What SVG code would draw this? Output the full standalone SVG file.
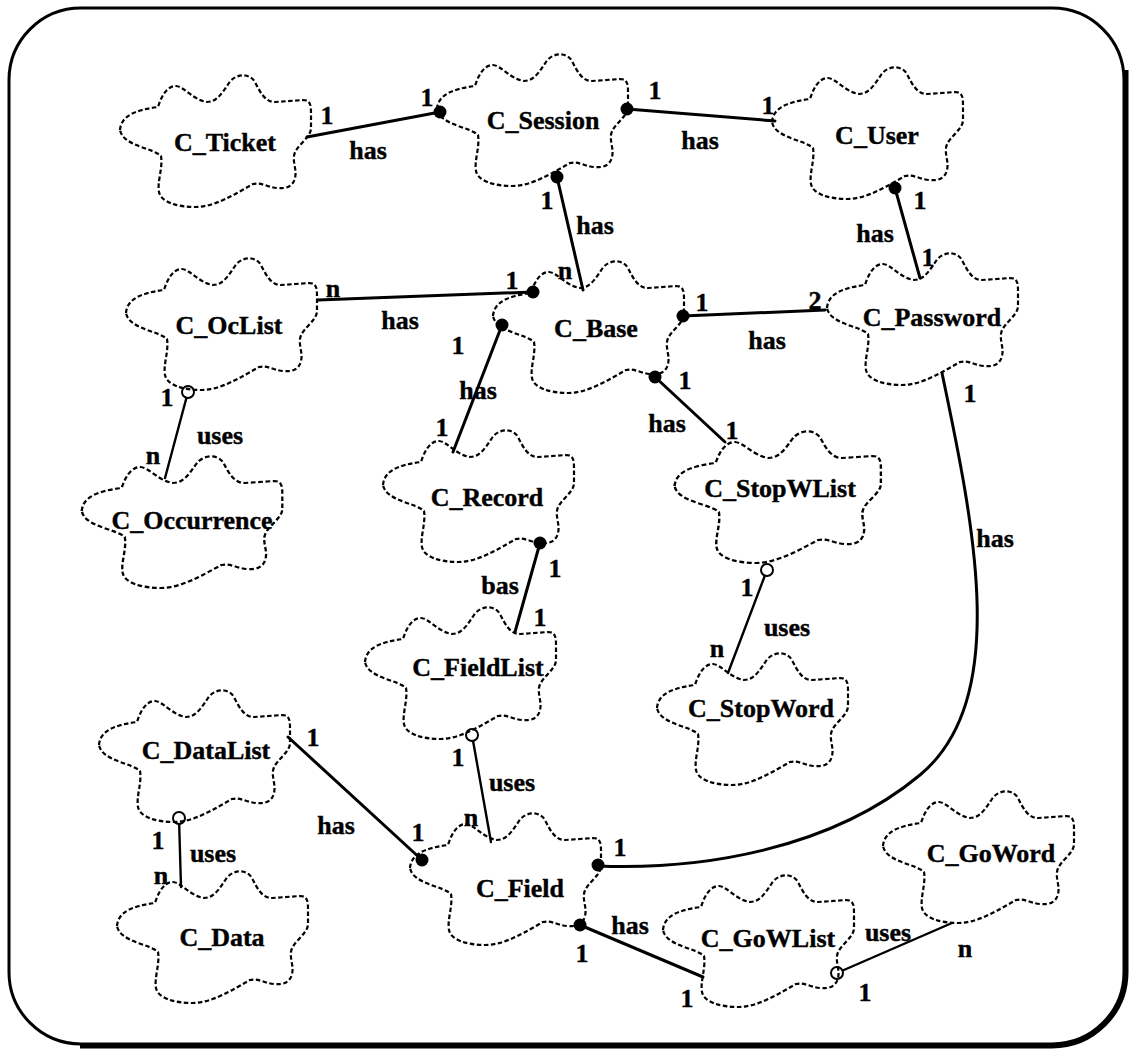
<svg xmlns="http://www.w3.org/2000/svg" xmlns:xlink="http://www.w3.org/1999/xlink" width="1131" height="1051" viewBox="0 0 1131 1051">
  <style>
    .cloud { fill: none; stroke: #000; stroke-width: 2.2; stroke-dasharray: 4.5 2.5; stroke-linejoin: round; }
    .name { font-family: "Liberation Serif", "Times New Roman", serif; font-weight: bold; font-size: 26px; text-anchor: middle; fill: #000; stroke: #000; stroke-width: 0.4; }
    .lbl { font-family: "Liberation Serif", "Times New Roman", serif; font-weight: bold; font-size: 26px; text-anchor: middle; fill: #000; stroke: #000; stroke-width: 0.4; }
    .has { fill: none; stroke: #000; stroke-width: 3; stroke-linecap: round; }
    .uses { fill: none; stroke: #000; stroke-width: 2.4; stroke-linecap: round; }
    .dot { fill: #000; }
    .ring { fill: #fff; stroke: #000; stroke-width: 2; }
  </style>
  <defs>
    <!-- Booch class cloud, centred on its origin -->
    <path id="cloud" class="cloud" d="M -105,-12 C -104,-26 -90,-32 -67,-35 C -63,-48 -57,-56 -49,-56 C -40,-55 -32,-42 -18,-40 C -8,-40 -2,-50 4,-59 C 10,-68 24,-70 30,-60 C 35,-50 40,-40 50,-40 L 78,-42 C 86,-42 86,-36 86,-28 L 86,-14 C 86,-4 70,4 69,14 C 68,22 72,28 70,36 C 68,44 62,47 52,46 C 42,45 36,40 28,42 C 10,52 -10,65 -30,65 C -48,65 -64,60 -66,50 C -68,40 -62,26 -64,14 C -72,6 -102,4 -105,-12 Z"/>
  </defs>

  <rect width="1131" height="1051" fill="#fff"/>

  <!-- outer frame with heavier lower-right edge -->
  <rect x="9" y="8" width="1115" height="1036" rx="72" ry="72" fill="none" stroke="#000" stroke-width="3"/>
  <path d="M 1126,70 L 1126,972 A 74,74 0 0 1 1052,1046 L 80,1046" fill="none" stroke="#000" stroke-width="5"/>

  <!-- connectors -->
  <g id="connectors">
    <line class="has" x1="307" y1="137" x2="440" y2="112"/>
    <line class="has" x1="627" y1="109" x2="775" y2="121"/>
    <line class="has" x1="557" y1="177" x2="583" y2="290"/>
    <line class="has" x1="318" y1="300" x2="533" y2="292"/>
    <line class="has" x1="502" y1="325" x2="453" y2="452"/>
    <line class="has" x1="683" y1="316" x2="825" y2="310"/>
    <line class="has" x1="655" y1="377" x2="725" y2="442"/>
    <line class="has" x1="895" y1="188" x2="920" y2="278"/>
    <line class="uses" x1="188" y1="392" x2="165" y2="478"/>
    <line class="has" x1="540" y1="543" x2="515" y2="632"/>
    <line class="uses" x1="767" y1="570" x2="728" y2="673"/>
    <line class="uses" x1="472" y1="735" x2="491" y2="842"/>
    <line class="has" x1="288" y1="737" x2="422" y2="860"/>
    <line class="uses" x1="179" y1="818" x2="181" y2="887"/>
    <path class="has" d="M 942,373 C 975,530 1010,700 920,775 S 700,870 598,866"/>
    <line class="has" x1="580" y1="925" x2="703" y2="977"/>
    <line class="uses" x1="837" y1="973" x2="952" y2="923"/>

    <!-- aggregation ends -->
    <circle class="dot" cx="440" cy="112" r="6.5"/>
    <circle class="dot" cx="627" cy="109" r="6.5"/>
    <circle class="dot" cx="557" cy="177" r="6.5"/>
    <circle class="dot" cx="533" cy="292" r="6.5"/>
    <circle class="dot" cx="502" cy="325" r="6.5"/>
    <circle class="dot" cx="683" cy="316" r="6.5"/>
    <circle class="dot" cx="655" cy="377" r="6.5"/>
    <circle class="dot" cx="895" cy="188" r="6.5"/>
    <circle class="dot" cx="540" cy="543" r="6.5"/>
    <circle class="dot" cx="422" cy="860" r="6.5"/>
    <circle class="dot" cx="598" cy="865" r="6.5"/>
    <circle class="dot" cx="580" cy="925" r="6.5"/>

    <!-- using ends -->
    <circle class="ring" cx="188" cy="392" r="6"/>
    <circle class="ring" cx="767" cy="570" r="6"/>
    <circle class="ring" cx="472" cy="735" r="6"/>
    <circle class="ring" cx="179" cy="818" r="6"/>
    <circle class="ring" cx="837" cy="973" r="6"/>

    <!-- role labels and cardinalities -->
    <text class="lbl" x="327" y="124">1</text>
    <text class="lbl" x="427" y="106">1</text>
    <text class="lbl" x="368" y="159">has</text>

    <text class="lbl" x="655" y="99">1</text>
    <text class="lbl" x="768" y="114">1</text>
    <text class="lbl" x="700" y="149">has</text>

    <text class="lbl" x="547" y="209">1</text>
    <text class="lbl" x="595" y="234">has</text>
    <text class="lbl" x="565" y="279">n</text>

    <text class="lbl" x="333" y="297">n</text>
    <text class="lbl" x="512" y="289">1</text>
    <text class="lbl" x="400" y="329">has</text>

    <text class="lbl" x="458" y="354">1</text>
    <text class="lbl" x="478" y="399">has</text>
    <text class="lbl" x="442" y="436">1</text>

    <text class="lbl" x="702" y="311">1</text>
    <text class="lbl" x="815" y="309">2</text>
    <text class="lbl" x="767" y="349">has</text>

    <text class="lbl" x="685" y="389">1</text>
    <text class="lbl" x="667" y="432">has</text>
    <text class="lbl" x="732" y="439">1</text>

    <text class="lbl" x="920" y="209">1</text>
    <text class="lbl" x="875" y="242">has</text>
    <text class="lbl" x="928" y="266">1</text>

    <text class="lbl" x="167" y="406">1</text>
    <text class="lbl" x="220" y="444">uses</text>
    <text class="lbl" x="153" y="464">n</text>

    <text class="lbl" x="555" y="577">1</text>
    <text class="lbl" x="500" y="594">bas</text>
    <text class="lbl" x="540" y="626">1</text>

    <text class="lbl" x="747" y="596">1</text>
    <text class="lbl" x="787" y="636">uses</text>
    <text class="lbl" x="717" y="657">n</text>

    <text class="lbl" x="458" y="766">1</text>
    <text class="lbl" x="512" y="791">uses</text>
    <text class="lbl" x="471" y="826">n</text>

    <text class="lbl" x="313" y="746">1</text>
    <text class="lbl" x="336" y="834">has</text>
    <text class="lbl" x="418" y="841">1</text>

    <text class="lbl" x="158" y="849">1</text>
    <text class="lbl" x="213" y="862">uses</text>
    <text class="lbl" x="161" y="884">n</text>

    <text class="lbl" x="620" y="856">1</text>
    <text class="lbl" x="970" y="402">1</text>
    <text class="lbl" x="995" y="547">has</text>

    <text class="lbl" x="582" y="962">1</text>
    <text class="lbl" x="630" y="934">has</text>
    <text class="lbl" x="687" y="1007">1</text>

    <text class="lbl" x="865" y="1001">1</text>
    <text class="lbl" x="888" y="941">uses</text>
    <text class="lbl" x="965" y="957">n</text>
  </g>

  <!-- classes -->
  <g id="C_Ticket"><use xlink:href="#cloud" transform="translate(225,142)"/><text class="name" x="225" y="151">C_Ticket</text></g>
  <g id="C_Session"><use xlink:href="#cloud" transform="translate(542,121)"/><text class="name" x="543" y="129">C_Session</text></g>
  <g id="C_User"><use xlink:href="#cloud" transform="translate(877,134)"/><text class="name" x="877" y="144">C_User</text></g>
  <g id="C_OcList"><use xlink:href="#cloud" transform="translate(231,325)"/><text class="name" x="229" y="334">C_OcList</text></g>
  <g id="C_Base"><use xlink:href="#cloud" transform="translate(598,328)"/><text class="name" x="596" y="337">C_Base</text></g>
  <g id="C_Password"><use xlink:href="#cloud" transform="translate(932,320)"/><text class="name" x="932" y="326">C_Password</text></g>
  <g id="C_Occurrence"><use xlink:href="#cloud" transform="translate(192,523) scale(1.05,1)"/><text class="name" x="192" y="529">C_Occurrence</text></g>
  <g id="C_Record"><use xlink:href="#cloud" transform="translate(488,497)"/><text class="name" x="487" y="506">C_Record</text></g>
  <g id="C_StopWList"><use xlink:href="#cloud" transform="translate(788,498) scale(1.08,1)"/><text class="name" x="780" y="497">C_StopWList</text></g>
  <g id="C_FieldList"><use xlink:href="#cloud" transform="translate(470,674)"/><text class="name" x="478" y="676">C_FieldList</text></g>
  <g id="C_StopWord"><use xlink:href="#cloud" transform="translate(762,720)"/><text class="name" x="761" y="717">C_StopWord</text></g>
  <g id="C_DataList"><use xlink:href="#cloud" transform="translate(204,757)"/><text class="name" x="206" y="759">C_DataList</text></g>
  <g id="C_Data"><use xlink:href="#cloud" transform="translate(222,938)"/><text class="name" x="222" y="946">C_Data</text></g>
  <g id="C_Field"><use xlink:href="#cloud" transform="translate(515,880)"/><text class="name" x="520" y="897">C_Field</text></g>
  <g id="C_GoWList"><use xlink:href="#cloud" transform="translate(768,942)"/><text class="name" x="768" y="947">C_GoWList</text></g>
  <g id="C_GoWord"><use xlink:href="#cloud" transform="translate(988,858)"/><text class="name" x="991" y="862">C_GoWord</text></g>
</svg>
